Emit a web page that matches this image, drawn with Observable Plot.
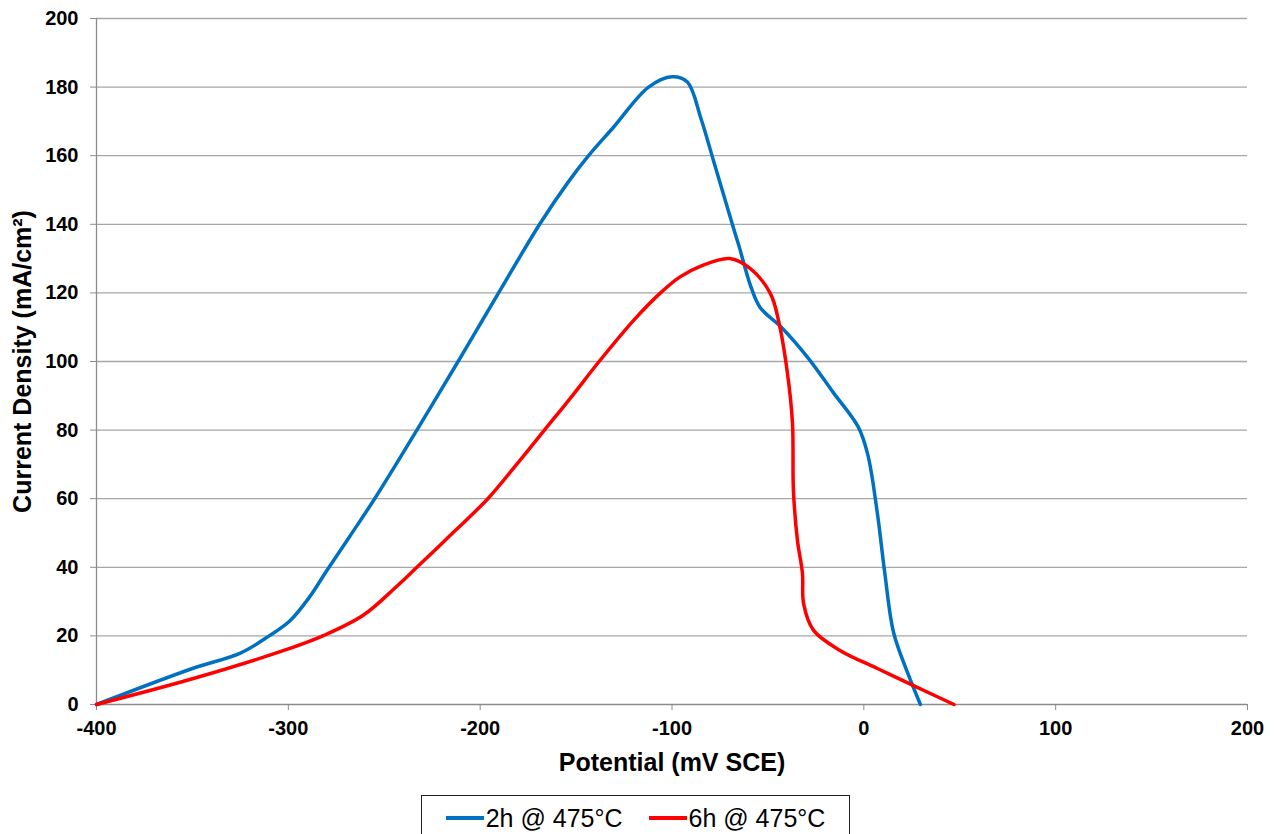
<!DOCTYPE html>
<html>
<head>
<meta charset="utf-8">
<script src="https://cdn.jsdelivr.net/npm/d3@7"></script>
<script src="https://cdn.jsdelivr.net/npm/@observablehq/plot@0.6"></script>
<style>
  html, body { margin: 0; padding: 0; background: #fff; }
  body { width: 1277px; height: 834px; overflow: hidden; font-family: "Liberation Sans", Arial, sans-serif; }
  #legend {
    position: absolute; left: 421px; top: 795px; width: 427px; height: 44px;
    border: 1px solid #222; box-sizing: content-box;
    display: flex; align-items: center; justify-content: center; gap: 26px;
    font-size: 25px; color: #000;
  }
  .item { display: flex; align-items: center; }
  .sw { width: 38px; height: 4px; margin-right: 2px; }
</style>
</head>
<body>
<div id="chart"></div>
<div id="legend"></div>
<script>
// Series 1: 2h @ 475°C
const x2h = [-400, -350, -325, -310, -299, -289, -280, -268, -255, -233, -211.5, -202, -190.4, -169, -154.5, -143.5, -130.5, -112.2, -100, -92, -85, -78.4, -68, -65, -59, -54, -43, -29, -16, -3, 2, 7, 11, 15.5, 23, 29.5];
const y2h = [0, 10.5, 15, 20, 24.5, 31.3, 39, 49, 60, 80, 100, 109, 120, 140, 152, 160, 168.3, 180, 183, 181.5, 171, 158.6, 139, 133.5, 122, 115.7, 110, 101, 91, 81, 73, 56, 38, 21, 9, 0];
// Series 2: 6h @ 475°C
const x6h = [-400, -350, -300, -282, -261, -244, -233, -213, -196, -181, -166.5, -152, -138, -120, -106, -96, -85, -70, -59, -48.7, -44.5, -39.8, -37.2, -36.7, -34.6, -32, -31.4, -26.2, -12.2, 7.1, 25.9, 47];
const y6h = [0, 7.5, 16.2, 20, 26, 34.2, 40, 50.7, 60, 70, 80, 90, 100, 112, 120, 124.6, 127.8, 130, 127, 119.8, 112, 96.5, 82, 62.4, 47.8, 38.2, 29.4, 21.6, 15.7, 10.5, 5.5, 0];

const seriesNames = ["2h @ 475°C", "6h @ 475°C"];
const seriesColors = ["#0070C0", "#FF0000"];
const xTicks = [-400, -300, -200, -100, 0, 100, 200];
const yTicks = [0, 20, 40, 60, 80, 100, 120, 140, 160, 180, 200];
const xTitle = "Potential (mV SCE)";
const yTitle = "Current Density (mA/cm²)";

const data = [
  ...x2h.map((x, i) => ({x, y: y2h[i], s: seriesNames[0]})),
  ...x6h.map((x, i) => ({x, y: y6h[i], s: seriesNames[1]}))
];

const font = "Liberation Sans, Arial, sans-serif";

const chart = Plot.plot({
  width: 1277,
  height: 790,
  marginLeft: 96,
  marginRight: 30,
  marginTop: 18,
  marginBottom: 86,
  style: {fontFamily: font, background: "#fff", overflow: "visible"},
  x: {domain: [-400, 200], label: null},
  y: {domain: [0, 200], label: null},
  color: {domain: seriesNames, range: seriesColors},
  marks: [
    Plot.ruleY(yTicks.filter(d => d > 0), {stroke: "#a6a6a6", strokeWidth: 1.3, strokeOpacity: 1}),
    Plot.ruleX([-400], {stroke: "#8c8c8c", strokeWidth: 1.3}),
    Plot.ruleY([0], {stroke: "#8c8c8c", strokeWidth: 1.3}),
    Plot.axisX({ticks: xTicks, tickSize: 6, tickPadding: 10, stroke: "#8c8c8c", fontSize: 20, fontWeight: "bold", fill: "#000", label: null, tickFormat: d => d}),
    Plot.axisY({ticks: yTicks, tickSize: 6, tickPadding: 12, stroke: "#8c8c8c", fontSize: 20, fontWeight: "bold", fill: "#000", label: null, tickFormat: d => d}),
    Plot.line(data, {x: "x", y: "y", z: "s", stroke: "s", strokeWidth: 3.5, curve: "catmull-rom"}),
    Plot.text([xTitle], {frameAnchor: "bottom", dy: 58, fontSize: 25, fontWeight: "bold", fill: "#000", lineAnchor: "middle", textAnchor: "middle"}),
    Plot.text([yTitle], {frameAnchor: "left", dx: -74, rotate: -90, fontSize: 25, fontWeight: "bold", fill: "#000", lineAnchor: "middle", textAnchor: "middle"})
  ]
});
document.getElementById("chart").appendChild(chart);

const legend = document.getElementById("legend");
seriesNames.forEach((name, i) => {
  const item = document.createElement("div");
  item.className = "item";
  const sw = document.createElement("span");
  sw.className = "sw";
  sw.style.background = seriesColors[i];
  const t = document.createElement("span");
  t.textContent = name;
  item.appendChild(sw);
  item.appendChild(t);
  legend.appendChild(item);
});
</script>
</body>
</html>
